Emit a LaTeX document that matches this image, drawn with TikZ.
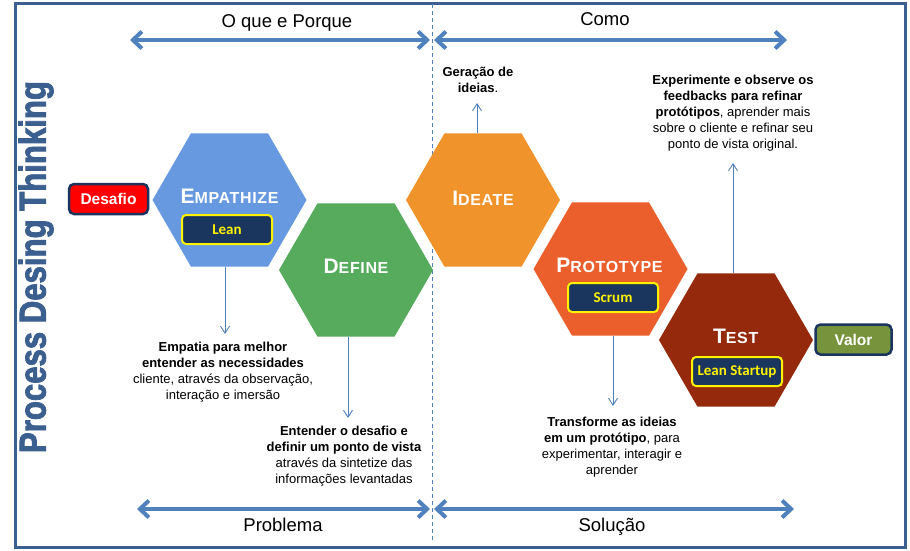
\documentclass[tikz,border=0pt]{standalone}
\usepackage{fontspec}
\setmainfont{Liberation Sans}
\newfontfamily\calfont{Carlito}
\newfontfamily\hexfont[LetterSpace=4]{Liberation Sans}
\newfontfamily\heavyfont[UprightFeatures={FakeBold=2.5},BoldFeatures={FakeBold=2.5}]{Liberation Sans}
\usetikzlibrary{arrows.meta,shapes.geometric}
\definecolor{frameblue}{HTML}{3B5F8E}
\definecolor{arrowblue}{HTML}{4F81BD}
\definecolor{empblue}{HTML}{6699E0}
\definecolor{defgreen}{HTML}{56AB5D}
\definecolor{ideorange}{HTML}{F0932A}
\definecolor{protored}{HTML}{EA5F2C}
\definecolor{testred}{HTML}{94290B}
\definecolor{navy}{HTML}{1B365E}
\definecolor{valorgreen}{HTML}{77933C}
\definecolor{desafiored}{HTML}{FF0000}
\newcommand{\smc}[2]{{\fontsize{21}{21}\selectfont #1}{\fontsize{16}{16}\selectfont #2}}
\begin{document}
\begin{tikzpicture}[x=1pt,y=-1pt,
  hexa/.style={regular polygon, regular polygon sides=6, minimum size=154pt, inner sep=0pt, outer sep=0pt, draw=none},
  hextitle/.style={inner sep=0pt, text=white, font=\hexfont\bfseries},
  method/.style={rounded corners=4pt, fill=navy, draw=yellow, line width=2pt, minimum width=90pt, minimum height=29pt, text=yellow, font=\calfont\bfseries\fontsize{15}{17}\selectfont, inner sep=0pt},
  endbox/.style={rounded corners=5pt, draw=navy, line width=2.5pt, text=white, font=\bfseries\fontsize{15.5}{18}\selectfont, inner sep=0pt, minimum height=30pt},
  bigarrow/.style={draw=arrowblue, line width=4pt, {Straight Barb[length=9pt,width=17pt]}-{Straight Barb[length=9pt,width=17pt]}},
  thinarrow/.style={draw=arrowblue, line width=0.9pt, -{Straight Barb[length=7pt,width=9pt]}},
  note/.style={align=center, font=\fontsize{13}{16}\selectfont, inner sep=0pt},
  phase/.style={anchor=base, inner sep=0pt, font=\fontsize{18.5}{20}\selectfont}
]
\useasboundingbox (0,0) rectangle (910,550);
\fill[white] (0,0) rectangle (910,550);
\draw[frameblue, line width=3pt] (15,3) rectangle (905,547);

% dashed divider
\coordinate (dtop) at (432,4);
\coordinate (dbot) at (432,540);
\draw[arrowblue, line width=1pt, dash pattern=on 4pt off 3pt] (dtop) -- (dbot);

% vertical title
\node[rotate=90, text=frameblue, inner sep=0pt] (ptitle) at (36,267)
  {\resizebox{372pt}{27pt}{\heavyfont\bfseries Process Desing Thinking}};

% phase arrows
\coordinate (tl1) at (130,40);
\coordinate (tl2) at (430,40);
\coordinate (tr1) at (434,40);
\coordinate (tr2) at (787,40);
\coordinate (bl1) at (137,509);
\coordinate (bl2) at (430,509);
\coordinate (br1) at (434,509);
\coordinate (br2) at (794,509);
\draw[bigarrow] (tl1) -- (tl2);
\draw[bigarrow] (tr1) -- (tr2);
\draw[bigarrow] (bl1) -- (bl2);
\draw[bigarrow] (br1) -- (br2);
\node[phase] (lblwhy) at (287,27.3) {O que e Porque};
\node[phase] (lblhow) at (605,25) {Como};
\node[phase] (lblprob) at (283,531.7) {Problema};
\node[phase] (lblsol) at (612,531.7) {Solução};

% hexagons
\node[hexa, fill=empblue] (emp) at (229.5,200) {};
\node[hexa, fill=defgreen] (def) at (356,270) {};
\node[hexa, fill=ideorange] (ide) at (483,200) {};
\node[hexa, fill=protored] (pro) at (610.5,269) {};
\node[hexa, fill=testred] (tst) at (736,340) {};

\node[hextitle] (empt) at (229.5,195.8) {\smc{E}{MPATHIZE}};
\node[hextitle] (deft) at (356,265.8) {\smc{D}{EFINE}};
\node[hextitle] (idet) at (483,198) {\smc{I}{DEATE}};
\node[hextitle] (prot) at (609.5,265.7) {\smc{P}{ROTOTYPE}};
\node[hextitle] (tstt) at (735.7,336.7) {\smc{T}{EST}};

\node[method] (lean) at (227,229.5) {Lean};
\node[method] (scrum) at (613,297.5) {Scrum};
\node[method] (leanst) at (737,371.5) {Lean Startup};

\node[endbox, fill=desafiored, minimum width=79pt] (desafio) at (108.5,199) {Desafio};
\node[endbox, fill=valorgreen, minimum width=76pt] (valor) at (853.5,339.5) {Valor};

% notes
\node[note] (nemp) at (223,371.7) {\textbf{Empatia para melhor}\\\textbf{entender as necessidades}\\cliente, através da observação,\\interação e imersão};
\node[note] (ndef) at (344,455.8) {\textbf{Entender o desafio e}\\\textbf{definir um ponto de vista}\\através da sintetize das\\informações levantadas};
\node[note] (nide) at (478,79.7) {\textbf{Geração de}\\\textbf{ideias}.};
\node[note] (npro) at (612,447.6) {\textbf{Transforme as ideias}\\\textbf{em um protótipo}, para\\experimentar, interagir e\\aprender};
\node[note] (ntst) at (733,113) {\textbf{Experimente e observe os}\\\textbf{feedbacks para refinar}\\\textbf{protótipos}, aprender mais\\sobre o cliente e refinar seu\\ponto de vista original.};

% connectors
\coordinate (aemp) at (225,334);
\coordinate (adef) at (348,418);
\coordinate (aide) at (477,103);
\coordinate (apro) at (613,406);
\coordinate (atst) at (733,163);
\draw[thinarrow] (emp.south -| aemp) -- (aemp);
\draw[thinarrow] (def.south -| adef) -- (adef);
\draw[thinarrow] (ide.north -| aide) -- (aide);
\draw[thinarrow] (pro.south -| apro) -- (apro);
\draw[thinarrow] (tst.north -| atst) -- (atst);
\end{tikzpicture}
\end{document}
